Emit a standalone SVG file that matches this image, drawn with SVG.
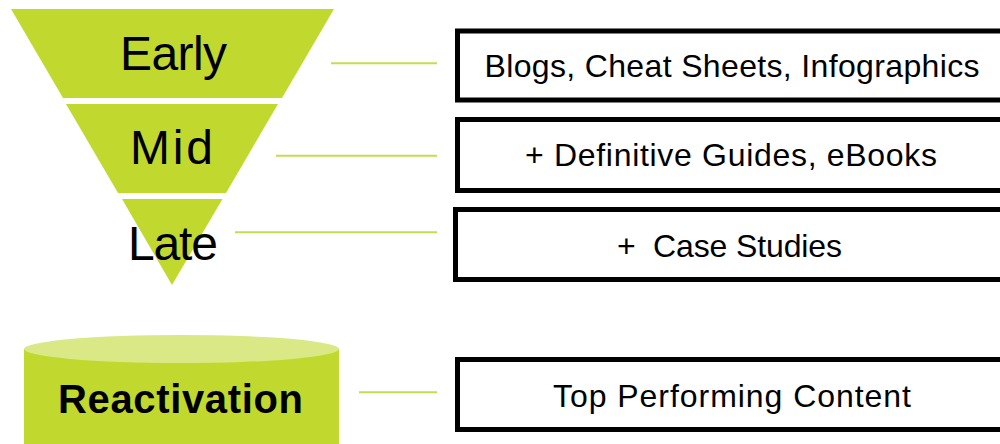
<svg xmlns="http://www.w3.org/2000/svg" width="1000" height="444" viewBox="0 0 1000 444">
  <style>
    .seg { fill: #c1d92f; }
    .stage { font-family: "Liberation Sans", Arial, sans-serif; font-size: 48px; fill: #000; text-anchor: middle; }
    .box { fill: #fff; stroke: #000; stroke-width: 5; }
    .boxtxt { font-family: "Liberation Sans", Arial, sans-serif; font-size: 32px; fill: #000; text-anchor: middle; }
    .conn { stroke: #c6dc4f; stroke-width: 2; fill: none; }
  </style>
  <rect width="1000" height="444" fill="#fff"/>
  <g id="early">
    <polygon class="seg" points="11,9 334,9 282,98 63,98"/>
    <text class="stage" x="173.5" y="70" textLength="107">Early</text>
  </g>
  <g id="mid">
    <polygon class="seg" points="66,104 278,104 226,193 118,193"/>
    <text class="stage" x="171.5" y="164" textLength="83">Mid</text>
  </g>
  <g id="late">
    <polygon class="seg" points="122,199 222.5,199 172,285"/>
    <text class="stage" x="173" y="260" textLength="90">Late</text>
  </g>
  <g id="reactivation">
    <rect x="24" y="349" width="315" height="100" fill="#c1d92f"/>
    <ellipse cx="181.5" cy="349" rx="157.5" ry="14" fill="#dae985"/>
    <text x="180.5" y="413" font-family="Liberation Sans, Arial, sans-serif" font-size="40" font-weight="bold" text-anchor="middle" textLength="245">Reactivation</text>
  </g>
  <g id="connectors">
    <line class="conn" x1="331" y1="63.3" x2="437" y2="63.3"/>
    <line class="conn" x1="276" y1="155.7" x2="437" y2="155.7"/>
    <line class="conn" x1="235" y1="232.3" x2="437" y2="232.3"/>
    <line class="conn" x1="359" y1="392.3" x2="437" y2="392.3"/>
  </g>
  <g id="box-early">
    <rect class="box" x="457.5" y="31" width="560" height="69"/>
    <text class="boxtxt" x="732" y="77" textLength="495">Blogs, Cheat Sheets, Infographics</text>
  </g>
  <g id="box-mid">
    <rect class="box" x="457.5" y="119.5" width="560" height="71"/>
    <text class="boxtxt" x="731" y="166" textLength="412">+ Definitive Guides, eBooks</text>
  </g>
  <g id="box-late">
    <rect class="box" x="455.5" y="209.5" width="560" height="70"/>
    <text class="boxtxt" x="729.5" y="256.5" textLength="225" xml:space="preserve">+  Case Studies</text>
  </g>
  <g id="box-reactivation">
    <rect class="box" x="457.5" y="359.5" width="560" height="70"/>
    <text class="boxtxt" x="732" y="407" textLength="358">Top Performing Content</text>
  </g>
</svg>
